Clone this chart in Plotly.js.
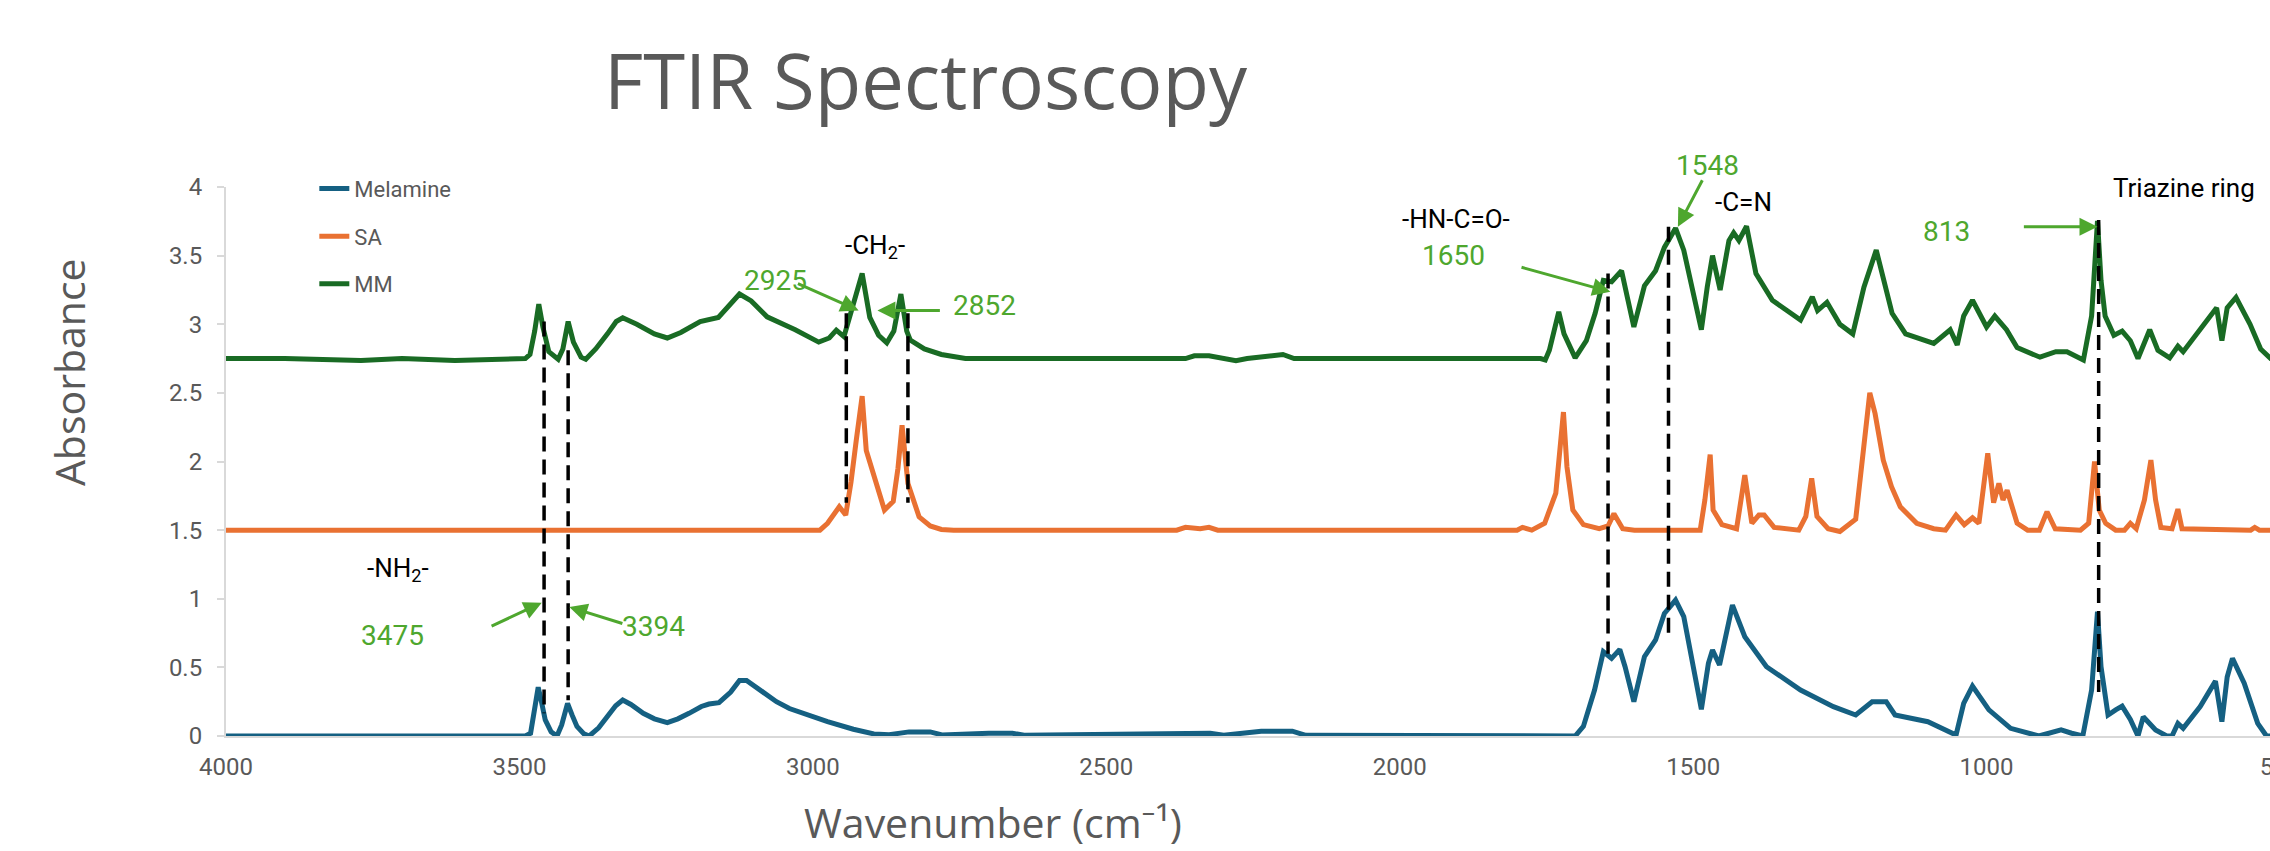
<!DOCTYPE html>
<html>
<head>
<meta charset="utf-8">
<script src="https://cdn.plot.ly/plotly-3.0.1.min.js"></script>
<style>
html, body { margin: 0; padding: 0; overflow: hidden; background: #ffffff; }
#chart { width: 2300px; height: 851px; }
</style>
</head>
<body>
<div id="chart"></div>
<script>
// ---------------- data ----------------
const seriesNames = ["Melamine", "SA", "MM"];

const melWn = [4000,3700,3490,3481,3474,3468,3462,3456,3446,3436,3428,3418,3410,3402,3390,3381,3365,3350,3336,3324,3310,3289,3270,3248,3230,3211,3190,3177,3160,3140,3125,3113,3095,3062,3040,3018,2975,2931,2896,2870,2836,2800,2780,2700,2660,2640,2365,2323,2300,2236,2183,2160,1701,1687,1668,1653,1639,1625,1616,1601,1583,1564,1549,1530,1516,1502,1486,1474,1467,1455,1433,1412,1375,1317,1261,1223,1205,1195,1171,1156,1100,1052,1039,1024,996,959,911,890,873,855,836,821,811,805,793,780,769,755,742,733,712,693,684,674,665,636,610,599,590,581,561,538,523,500];
const melAbs = [0,0,0,0.02,0.18,0.355,0.24,0.117,0.03,0,0.08,0.238,0.15,0.07,0.015,0,0.06,0.14,0.22,0.262,0.23,0.165,0.125,0.097,0.125,0.165,0.215,0.233,0.243,0.32,0.405,0.405,0.35,0.25,0.2,0.165,0.104,0.049,0.015,0.01,0.03,0.03,0.008,0.02,0.02,0.005,0.02,0.02,0.005,0.035,0.035,0.005,0,0.07,0.335,0.614,0.566,0.631,0.505,0.25,0.578,0.70,0.893,0.99,0.87,0.53,0.194,0.53,0.626,0.517,0.954,0.723,0.505,0.335,0.214,0.153,0.22,0.25,0.25,0.153,0.104,0.007,0.238,0.364,0.19,0.056,0,0.02,0.044,0.02,0,0.335,0.905,0.505,0.153,0.19,0.218,0.12,0,0.14,0.044,0,0,0.092,0.056,0.214,0.40,0.104,0.43,0.566,0.385,0.092,0,0];

const saWn = [4000,3000,2988,2975,2963,2955,2944,2935,2926,2916,2909,2895,2878,2863,2855,2848,2838,2819,2800,2781,2760,2380,2365,2340,2325,2310,1800,1791,1775,1753,1734,1721,1715,1705,1687,1660,1645,1635,1620,1600,1488,1480,1471,1466,1451,1426,1412,1400,1388,1379,1362,1320,1308,1298,1289,1270,1250,1223,1213,1199,1190,1176,1162,1147,1119,1090,1070,1052,1038,1024,1013,998,988,979,972,965,948,930,910,897,883,840,826,816,808,797,780,765,755,745,731,720,712,703,684,674,667,550,543,535,500];
const saAbs = [1.5,1.5,1.5,1.55,1.62,1.67,1.61,1.85,2.156,2.476,2.08,1.89,1.646,1.71,1.95,2.265,1.84,1.597,1.53,1.505,1.5,1.5,1.52,1.51,1.52,1.5,1.5,1.52,1.5,1.55,1.77,2.36,1.96,1.646,1.54,1.51,1.53,1.62,1.51,1.5,1.5,1.72,2.05,1.646,1.54,1.51,1.90,1.55,1.61,1.61,1.52,1.5,1.60,1.877,1.60,1.51,1.49,1.58,1.96,2.50,2.35,2.01,1.816,1.67,1.55,1.51,1.5,1.61,1.54,1.59,1.55,2.06,1.70,1.84,1.72,1.79,1.55,1.50,1.5,1.634,1.51,1.5,1.55,2.0,1.646,1.55,1.5,1.5,1.55,1.51,1.72,2.01,1.72,1.52,1.51,1.653,1.51,1.5,1.52,1.5,1.5];

const mmWn = [4000,3900,3770,3700,3610,3490,3482,3474,3467,3460,3450,3434,3426,3417,3408,3395,3387,3370,3350,3335,3324,3300,3270,3248,3225,3192,3161,3140,3125,3105,3078,3030,2990,2972,2960,2947,2930,2916,2903,2888,2874,2862,2850,2840,2834,2810,2781,2740,2365,2350,2325,2300,2279,2260,2215,2199,2180,1760,1752,1745,1729,1720,1701,1682,1667,1653,1639,1622,1611,1601,1583,1564,1549,1530,1516,1502,1486,1476,1467,1454,1439,1431,1422,1409,1393,1365,1317,1297,1288,1272,1250,1228,1209,1188,1176,1161,1138,1090,1062,1050,1039,1024,1000,986,966,948,909,882,863,835,821,811,805,798,783,769,755,742,722,708,688,674,665,636,608,599,590,575,551,533,516,500];
const mmAbs = [2.75,2.75,2.735,2.75,2.735,2.75,2.78,2.95,3.146,2.98,2.80,2.745,2.82,3.02,2.87,2.76,2.745,2.82,2.93,3.02,3.047,3.0,2.93,2.90,2.94,3.02,3.05,3.15,3.22,3.17,3.054,2.96,2.87,2.90,2.957,2.91,3.15,3.37,3.05,2.92,2.865,2.95,3.22,2.95,2.884,2.82,2.78,2.75,2.75,2.77,2.77,2.75,2.735,2.75,2.77,2.78,2.75,2.75,2.74,2.81,3.09,2.93,2.755,2.88,3.08,3.32,3.31,3.39,3.175,2.98,3.28,3.39,3.56,3.70,3.54,3.25,2.96,3.27,3.50,3.25,3.61,3.666,3.61,3.714,3.37,3.175,3.03,3.20,3.10,3.16,3.00,2.93,3.27,3.54,3.34,3.08,2.93,2.86,2.96,2.85,3.06,3.175,2.98,3.06,2.96,2.83,2.76,2.80,2.80,2.74,3.06,3.753,3.32,3.06,2.92,2.95,2.88,2.75,2.96,2.81,2.755,2.84,2.80,2.96,3.12,2.88,3.12,3.195,3.00,2.82,2.75,2.75];

const xTickVals = [4000,3500,3000,2500,2000,1500,1000,500];
const xTickText = ["4000","3500","3000","2500","2000","1500","1000","500"];
const yTickVals = [0,0.5,1,1.5,2,2.5,3,3.5,4];
const yTickText = ["0","0.5","1","1.5","2","2.5","3","3.5","4"];

// dashed marker lines (wavenumber, top absorbance, bottom absorbance)
const dashWn = [3458,3417,2943,2838,1645,1542,809];
const dashTop = [3.02,2.81,3.08,3.08,3.37,3.71,3.76];
const dashBottom = [0.165,0.26,1.70,1.70,0.60,0.75,0.32];

// green arrows (tail -> head)
const arrowTailWn = [3550,3322,3028,2781,1795,1483,939];
const arrowTailAbs = [0.796,0.816,3.30,3.10,3.418,4.06,3.71];
const arrowHeadWn = [3462,3415,2922,2890,1641,1526,811];
const arrowHeadAbs = [0.971,0.94,3.10,3.10,3.236,3.71,3.71];

// peak numbers (green)
const peakLabels = ["3475","3394","2925","2852","1650","1548","813"];
const peakLabelWn = [3717,3272,3063,2708,1908,1475,1069];
const peakLabelAbs = [0.735,0.796,3.32,3.14,3.50,4.16,3.673];

// group labels (black)
const groupLabels = ["-NH<sub>2</sub>-","-CH<sub>2</sub>-","-HN-C=O-","-C=N","Triazine ring"];
const groupLabelWn = [3707,2894,1904,1414,788];
const groupLabelAbs = [1.21,3.57,3.77,3.89,3.99];
const groupLabelAnchor = ["center","center","center","center","left"];

// ---------------- styling ----------------
const colors = ["#156082", "#E97132", "#196B24"];
const green = "#4EA72E";
const gray = "#595959";
const Y_MAX = 4;

const seriesX = [melWn, saWn, mmWn];
const seriesY = [melAbs, saAbs, mmAbs];

const traces = seriesNames.map((name, i) => ({
  type: "scatter",
  mode: "lines",
  name: name,
  legendgroup: "g" + i,
  x: seriesX[i],
  y: seriesY[i],
  line: { color: colors[i], width: 5 },
  hoverinfo: "x+y+name"
}));

const dx = [], dy = [];
dashWn.forEach((w, i) => {
  dx.push(w, w, null);
  dy.push(dashTop[i], dashBottom[i], null);
});
traces.push({
  type: "scatter",
  mode: "lines",
  x: dx,
  y: dy,
  showlegend: false,
  hoverinfo: "skip",
  line: { color: "#000000", width: 3.5, dash: "15px,8px" }
});

// labels above the axis range are placed in paper space so they are not hidden
function yPlace(v) {
  return v > Y_MAX
    ? { y: v / Y_MAX, yref: "paper", yanchor: "middle" }
    : { y: v, yref: "y", yanchor: "middle" };
}

const annotations = [];
arrowHeadWn.forEach((w, i) => {
  annotations.push({
    x: w, y: arrowHeadAbs[i], xref: "x", yref: "y",
    ax: arrowTailWn[i], ay: arrowTailAbs[i], axref: "x", ayref: "y",
    text: "", showarrow: true, arrowhead: 2, arrowsize: 1.2,
    arrowwidth: 3, arrowcolor: green
  });
});
peakLabels.forEach((t, i) => {
  annotations.push(Object.assign({
    x: peakLabelWn[i], xref: "x", xanchor: "center",
    text: t, showarrow: false,
    font: { family: "Roboto, sans-serif", size: 28, color: green }
  }, yPlace(peakLabelAbs[i])));
});
groupLabels.forEach((t, i) => {
  annotations.push(Object.assign({
    x: groupLabelWn[i], xref: "x",
    text: t, showarrow: false, xanchor: groupLabelAnchor[i],
    font: { family: "Roboto, sans-serif", size: 26, color: "#000000" }
  }, yPlace(groupLabelAbs[i])));
});
// chart and axis titles
annotations.push({
  x: 0.3408, y: 1.195, xref: "paper", yref: "paper",
  text: "FTIR Spectroscopy", showarrow: false,
  xanchor: "center", yanchor: "middle",
  font: { family: "Open Sans, sans-serif", size: 76, color: gray }
});
annotations.push({
  x: -0.0764, y: 0.663, xref: "paper", yref: "paper",
  text: "Absorbance", showarrow: false, textangle: -90,
  xanchor: "center", yanchor: "middle",
  font: { family: "Open Sans, sans-serif", size: 41, color: gray }
});
annotations.push({
  x: 0.3734, y: -0.157, xref: "paper", yref: "paper",
  text: "Wavenumber (cm\u207B\u00B9)", showarrow: false,
  xanchor: "center", yanchor: "middle",
  font: { family: "Open Sans, Noto Sans, DejaVu Sans, sans-serif", size: 41, color: gray }
});

const layout = {
  width: 2300,
  height: 851,
  margin: { l: 226, r: 20, t: 187, b: 115, pad: 0 },
  paper_bgcolor: "#ffffff",
  plot_bgcolor: "#ffffff",
  showlegend: true,
  legend: {
    x: 0.043, y: 1.035, xanchor: "left", yanchor: "top",
    font: { family: "Roboto, sans-serif", size: 22, color: gray },
    tracegroupgap: 16,
    bgcolor: "rgba(0,0,0,0)"
  },
  xaxis: {
    range: [4000, 500], autorange: false,
    tickmode: "array", tickvals: xTickVals, ticktext: xTickText,
    showline: true, linecolor: "#d9d9d9", linewidth: 2,
    showgrid: false, zeroline: false, ticks: "",
    ticklabelstandoff: 8,
    ticklabeloverflow: "allow",
    tickfont: { family: "Roboto, sans-serif", size: 24, color: gray }
  },
  yaxis: {
    range: [0, Y_MAX], autorange: false,
    tickmode: "array", tickvals: yTickVals, ticktext: yTickText,
    showline: true, linecolor: "#d9d9d9", linewidth: 2,
    showgrid: false, zeroline: false,
    ticks: "outside", ticklen: 7, tickcolor: "#d9d9d9", tickwidth: 2,
    ticklabelstandoff: 10,
    tickfont: { family: "Roboto, sans-serif", size: 24, color: gray }
  },
  annotations: annotations
};

Plotly.newPlot("chart", traces, layout, { displayModeBar: false, staticPlot: true });
</script>
</body>
</html>
